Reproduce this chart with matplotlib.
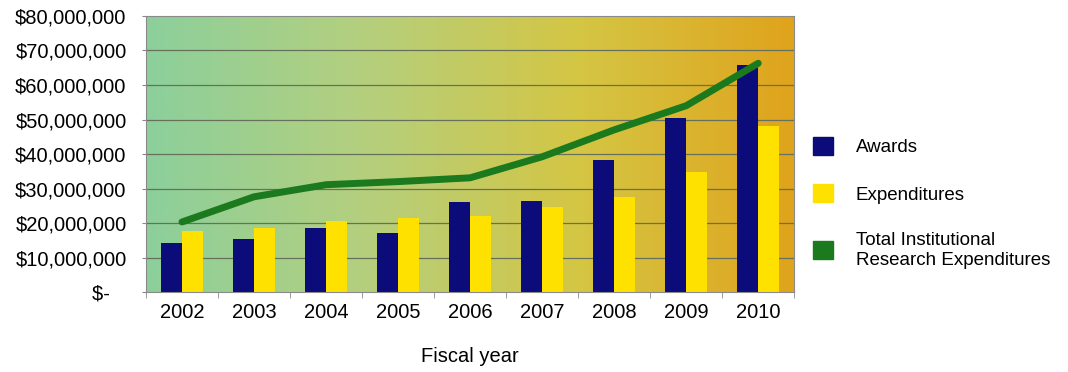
import numpy as np
import matplotlib.pyplot as plt
from matplotlib.colors import LinearSegmentedColormap
from matplotlib.patches import Patch

plt.rcParams['font.family'] = ['Liberation Sans', 'DejaVu Sans']

years = ['2002', '2003', '2004', '2005', '2006', '2007', '2008', '2009', '2010']
awards = [14.2, 15.4, 18.6, 17.2, 26.2, 26.5, 38.4, 50.3, 65.7]          # millions
expenditures = [17.7, 18.6, 20.6, 21.5, 22.1, 24.7, 27.6, 34.9, 48.0]
total_research = [20.3, 27.6, 31.1, 32.0, 33.1, 39.2, 47.0, 54.0, 66.3]
ytick_vals = [0, 10, 20, 30, 40, 50, 60, 70, 80]

navy = '#0b0b7a'
yellow = '#ffe100'
green = '#1b7a1e'

fig = plt.figure(figsize=(10.68, 3.72), dpi=100)
ax = fig.add_axes([0.1367, 0.215, 0.607, 0.742])

x = np.arange(len(years))
w = 0.29

# gradient background
bg = LinearSegmentedColormap.from_list('bg', ['#8ccf9c', '#b4cf7e', '#d4c644', '#e0a31c'])
grad = np.linspace(0, 1, 256).reshape(1, -1)
ax.imshow(grad, cmap=bg, aspect='auto', extent=(-0.5, len(years) - 0.5, 0, 80), zorder=0)

for v in ytick_vals[1:-1]:
    ax.axhline(v, color='#66705a', lw=0.9, zorder=1)

ax.bar(x - w / 2, awards, w, color=navy, zorder=2)
ax.bar(x + w / 2, expenditures, w, color=yellow, zorder=2)
ax.plot(x, total_research, color=green, lw=5, solid_capstyle='round', zorder=3)

ax.set_xlim(-0.5, len(years) - 0.5)
ax.set_ylim(0, 80)
ax.set_xticks(x)
ax.set_xticklabels(years, fontsize=14.5)
ax.set_xticks(np.arange(-0.5, len(years), 1), minor=True)
ax.tick_params(axis='x', which='major', length=0, pad=8)
ax.tick_params(axis='x', which='minor', length=4, color='#888888')
ax.set_yticks(ytick_vals)
ax.set_yticklabels(['$-   '] + ['${:,}'.format(v * 1000000) for v in ytick_vals[1:]], fontsize=14.5)
ax.tick_params(axis='y', length=3, color='#888888', pad=11)
for s in ax.spines.values():
    s.set_color('#8a8a8a')
    s.set_linewidth(0.8)

ax.set_xlabel('Fiscal year', fontsize=14.5, labelpad=18)

handles = [Patch(color=navy), Patch(color=yellow), Patch(color=green)]
labels = ['Awards', 'Expenditures', 'Total Institutional\nResearch Expenditures']
fig.legend(handles, labels, loc='center left', bbox_to_anchor=(0.745, 0.455),
           frameon=False, fontsize=13.5, handlelength=1.1, handleheight=1.1,
           handletextpad=1.2, labelspacing=1.5)

fig.savefig('out.png', dpi=100)
